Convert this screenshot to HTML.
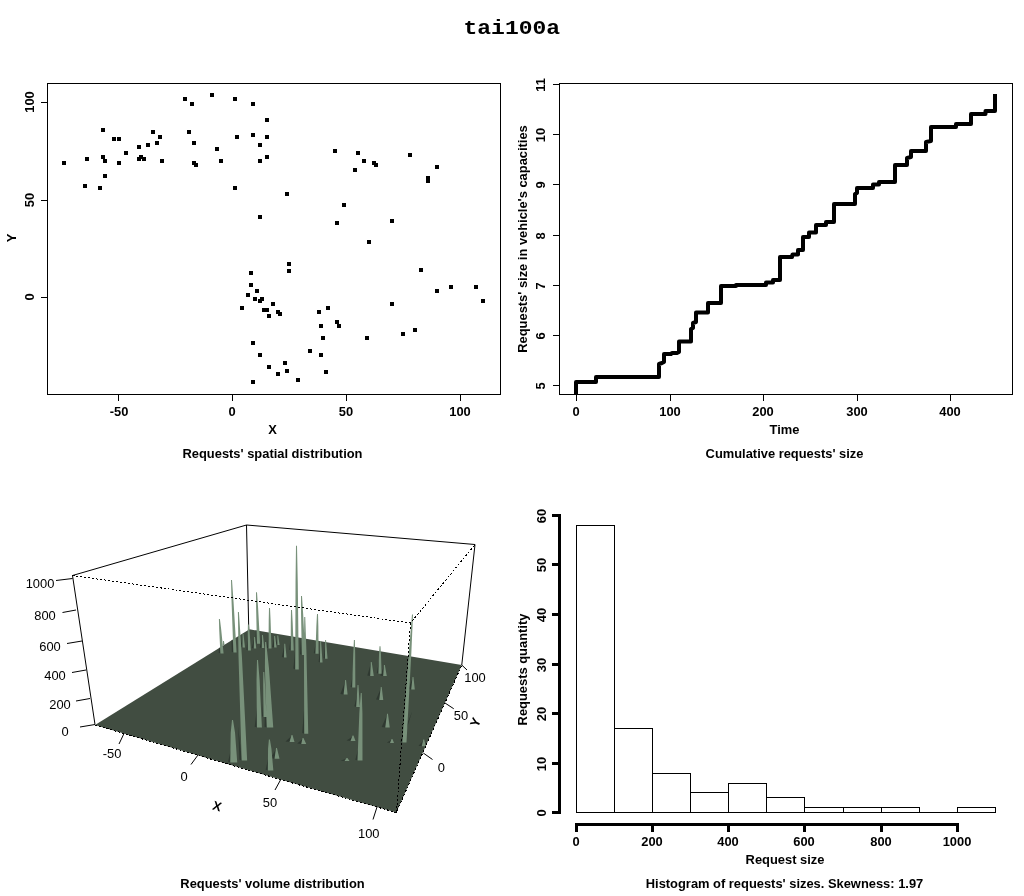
<!DOCTYPE html>
<html lang="en"><head><meta charset="utf-8"><title>tai100a</title>
<style>html,body{margin:0;padding:0;background:#fff}svg{display:block}text{font-family:"Liberation Sans",Arial,sans-serif;fill:#000}.b{font-weight:bold;font-size:12.9px}.r{font-size:12.9px}.t{font-family:"Liberation Mono","Courier New",monospace;font-weight:bold;font-size:20.5px}.c{shape-rendering:crispEdges}</style></head><body>
<svg width="1024" height="896" viewBox="0 0 1024 896">
<rect width="1024" height="896" fill="#fff"/>
<text class="t" transform="translate(511.8 34) scale(1.122 1)" text-anchor="middle">tai100a</text>
<g id="p1">
<rect class="c" x="47.5" y="83.5" width="453" height="311" fill="none" stroke="#000"/>
<path class="c" d="M118.5 394.5V400.5M232.5 394.5V400.5M346.5 394.5V400.5M460.5 394.5V400.5M47.5 297.5H41M47.5 200.5H41M47.5 102.5H41" stroke="#000" fill="none"/>
<text class="b" x="119" y="415.7" text-anchor="middle">-50</text>
<text class="b" x="232" y="415.7" text-anchor="middle">0</text>
<text class="b" x="346" y="415.7" text-anchor="middle">50</text>
<text class="b" x="460" y="415.7" text-anchor="middle">100</text>
<text class="b" transform="translate(33.5 297.0) rotate(-90)" text-anchor="middle">0</text>
<text class="b" transform="translate(33.5 200.0) rotate(-90)" text-anchor="middle">50</text>
<text class="b" transform="translate(33.5 102.0) rotate(-90)" text-anchor="middle">100</text>
<text class="b" x="272.5" y="433.7" text-anchor="middle">X</text>
<text class="b" transform="translate(15.5 238) rotate(-90)" text-anchor="middle">Y</text>
<text class="b" x="272.5" y="457.5" text-anchor="middle">Requests' spatial distribution</text>
<path class="c" d="M62 161h4v4h-4zM85 157h4v4h-4zM101 128h4v4h-4zM112 137h4v4h-4zM117 137h4v4h-4zM101 155h4v4h-4zM103 159h4v4h-4zM117 161h4v4h-4zM124 151h4v4h-4zM103 174h4v4h-4zM83 184h4v4h-4zM98 186h4v4h-4zM137 145h4v4h-4zM146 143h4v4h-4zM151 130h4v4h-4zM158 135h4v4h-4zM155 141h4v4h-4zM137 157h4v4h-4zM139 155h4v4h-4zM142 157h4v4h-4zM160 159h4v4h-4zM183 97h4v4h-4zM190 102h4v4h-4zM210 93h4v4h-4zM233 97h4v4h-4zM251 102h4v4h-4zM265 118h4v4h-4zM187 130h4v4h-4zM192 141h4v4h-4zM215 147h4v4h-4zM219 159h4v4h-4zM192 161h4v4h-4zM194 163h4v4h-4zM235 135h4v4h-4zM251 133h4v4h-4zM265 135h4v4h-4zM258 143h4v4h-4zM258 159h4v4h-4zM265 155h4v4h-4zM233 186h4v4h-4zM285 192h4v4h-4zM258 215h4v4h-4zM287 262h4v4h-4zM287 269h4v4h-4zM249 271h4v4h-4zM249 283h4v4h-4zM255 289h4v4h-4zM246 293h4v4h-4zM253 297h4v4h-4zM260 297h4v4h-4zM258 299h4v4h-4zM333 149h4v4h-4zM356 151h4v4h-4zM362 159h4v4h-4zM372 161h4v4h-4zM374 163h4v4h-4zM353 168h4v4h-4zM408 153h4v4h-4zM435 165h4v4h-4zM426 176h4v4h-4zM426 179h4v4h-4zM342 203h4v4h-4zM335 221h4v4h-4zM390 219h4v4h-4zM367 240h4v4h-4zM419 268h4v4h-4zM435 289h4v4h-4zM449 285h4v4h-4zM474 285h4v4h-4zM481 299h4v4h-4zM240 306h4v4h-4zM271 302h4v4h-4zM262 308h4v4h-4zM265 308h4v4h-4zM267 314h4v4h-4zM276 310h4v4h-4zM278 312h4v4h-4zM251 341h4v4h-4zM258 353h4v4h-4zM267 365h4v4h-4zM283 361h4v4h-4zM285 369h4v4h-4zM276 372h4v4h-4zM251 380h4v4h-4zM296 378h4v4h-4zM308 349h4v4h-4zM319 353h4v4h-4zM324 370h4v4h-4zM321 336h4v4h-4zM319 324h4v4h-4zM317 310h4v4h-4zM326 306h4v4h-4zM335 320h4v4h-4zM337 324h4v4h-4zM365 336h4v4h-4zM390 302h4v4h-4zM401 332h4v4h-4zM413 328h4v4h-4z" fill="#000"/>
</g>
<g id="p2">
<rect class="c" x="559.5" y="83.5" width="453" height="311" fill="none" stroke="#000"/>
<path class="c" d="M576.5 394.5V400.5M670.5 394.5V400.5M763.5 394.5V400.5M857.5 394.5V400.5M950.5 394.5V400.5M559.5 385.5H553M559.5 335.5H553M559.5 285.5H553M559.5 235.5H553M559.5 184.5H553M559.5 134.5H553M559.5 84.5H553" stroke="#000" fill="none"/>
<text class="b" x="576.0" y="415.7" text-anchor="middle">0</text>
<text class="b" x="670.0" y="415.7" text-anchor="middle">100</text>
<text class="b" x="763.0" y="415.7" text-anchor="middle">200</text>
<text class="b" x="857.0" y="415.7" text-anchor="middle">300</text>
<text class="b" x="950.0" y="415.7" text-anchor="middle">400</text>
<text class="b" transform="translate(544.5 386.0) rotate(-90)" text-anchor="middle">5</text>
<text class="b" transform="translate(544.5 336.0) rotate(-90)" text-anchor="middle">6</text>
<text class="b" transform="translate(544.5 286.0) rotate(-90)" text-anchor="middle">7</text>
<text class="b" transform="translate(544.5 236.0) rotate(-90)" text-anchor="middle">8</text>
<text class="b" transform="translate(544.5 185.0) rotate(-90)" text-anchor="middle">9</text>
<text class="b" transform="translate(544.5 135.0) rotate(-90)" text-anchor="middle">10</text>
<text class="b" transform="translate(544.5 85.0) rotate(-90)" text-anchor="middle">11</text>
<text class="b" x="784.5" y="433.7" text-anchor="middle">Time</text>
<text class="b" transform="translate(526.5 239) rotate(-90)" text-anchor="middle">Requests' size in vehicle's capacities</text>
<text class="b" x="784.5" y="457.5" text-anchor="middle">Cumulative requests' size</text>
<path d="M576 394L576 382L596 382L596 377L659 377L659 364L662 363L664 362L664 354L671 354L672 353L677 353L679 352L679 341.5L691 341.5L691 329L693 328L693 323L696 322L696 312.5L708 312.5L708 303L721 303L721 286L736 286L736 285L766 285L766 282.5L773 282.5L773 280L780 280L780 257L792 257L792.5 254.5L798 254.5L798 250L803 250L803 237L809 237L809 232.5L816 232.5L816 225L826 225L826 222L834 222L834 204L855 204L855 194L857 193L857 188L873 188L873 184.5L879 184.5L879 182L895 182L895 165L907 165L907 158L911 157L911 151L926 151L926 142L931 141L931 127L956 127L956 124L971 124L971 114L985.5 114L985.5 111L995 111L995 94" stroke="#000" stroke-width="4" fill="none" stroke-linejoin="round" stroke-linecap="butt"/>
</g>
<g id="p4">
<path class="c" d="M576.5 812.5V525.5H614.5V812.5zM614.5 812.5V728.5H652.5V812.5zM652.5 812.5V773.5H690.5V812.5zM690.5 812.5V792.5H728.5V812.5zM728.5 812.5V783.5H766.5V812.5zM766.5 812.5V797.5H804.5V812.5zM804.5 812.5V807.5H843.5V812.5zM843.5 812.5V807.5H881.5V812.5zM881.5 812.5V807.5H919.5V812.5zM919.5 812.5V812.5H957.5V812.5zM957.5 812.5V807.5H995.5V812.5z" stroke="#000" fill="#fff"/>
<path class="c" d="M559.5 514V814M561 812.5H552M561 763.5H552M561 713.5H552M561 664.5H552M561 614.5H552M561 564.5H552M561 515.5H552" stroke="#000" stroke-width="3" fill="none"/>
<path class="c" d="M575 824.5H959M576.5 823V831.5M652.5 823V831.5M728.5 823V831.5M804.5 823V831.5M881.5 823V831.5M957.5 823V831.5" stroke="#000" stroke-width="3" fill="none"/>
<text class="b" x="576.0" y="845.7" text-anchor="middle">0</text>
<text class="b" x="652.0" y="845.7" text-anchor="middle">200</text>
<text class="b" x="728.0" y="845.7" text-anchor="middle">400</text>
<text class="b" x="804.0" y="845.7" text-anchor="middle">600</text>
<text class="b" x="881.0" y="845.7" text-anchor="middle">800</text>
<text class="b" x="957.0" y="845.7" text-anchor="middle">1000</text>
<text class="b" transform="translate(545.5 813.0) rotate(-90)" text-anchor="middle">0</text>
<text class="b" transform="translate(545.5 764.0) rotate(-90)" text-anchor="middle">10</text>
<text class="b" transform="translate(545.5 714.0) rotate(-90)" text-anchor="middle">20</text>
<text class="b" transform="translate(545.5 665.0) rotate(-90)" text-anchor="middle">30</text>
<text class="b" transform="translate(545.5 615.0) rotate(-90)" text-anchor="middle">40</text>
<text class="b" transform="translate(545.5 565.0) rotate(-90)" text-anchor="middle">50</text>
<text class="b" transform="translate(545.5 516.0) rotate(-90)" text-anchor="middle">60</text>
<text class="b" x="785" y="863.7" text-anchor="middle">Request size</text>
<text class="b" transform="translate(526.5 669.5) rotate(-90)" text-anchor="middle">Requests quantity</text>
<text class="b" x="784.5" y="887.5" text-anchor="middle">Histogram of requests' sizes. Skewness: 1.97</text>
</g>
<g id="p3">
<path d="M72.5 575.5L246.5 525L475 544.5L461.75 665M246.5 525L248.75 629.25M72.5 575.5L95 724.5" stroke="#000" fill="none" stroke-width="1"/>
<clipPath id="fl"><polygon points="95,725 249.5,629.3 461.75,665 396.25,812.5 290,782.3 208,758.3"/></clipPath>
<polygon points="95,725 249.5,629.3 461.75,665 396.25,812.5 290,782.3 208,758.3" fill="#414d41"/>
<path d="M256.2 624.02L257.20 643.75L255.30 642.95zM277.55 636.40L277.80 645L275.64 644.6zM223.3 641.80L223.35 645L221.67 644.6zM242.8 634.80L242.90 647.5L240.50 647.1zM274.40000000000003 636.80L274.55 647.5L272.15 647.1zM262.3 635.80L262.15 648L259.75 647.6zM269.2 630.42L268.80 648.5L267.00 647.7zM254.4 637.80L254.15 648.5L251.75 648.1zM248.1 634.67L248.20 650.6L246.40 649.8000000000001zM291.2 632.51L291.05 650.6L289.25 649.8000000000001zM231.2 629.62L233.70 652.5L231.80 651.7zM219.1 636.33L220.70 653.5L218.80 652.7zM317.2 635.79L315.70 653.75L313.80 652.95zM301.2 634.15L302.10 655L300.10 654.2zM284.55 644.55L284.35 657.5L281.87 657.1zM325.3 643.94L325.25 658.75L323.65 657.95zM320.3 647.27L320.25 662.5L318.65 661.7zM296.2 638.85L295.50 669.4L293.40 668.6zM379.7 657.62L378.70 673.75L376.80 672.95zM371.05 662.80L370.60 676L367.32 675.6zM384.2 665.80L383.60 676L380.32 675.6zM354.09999999999997 668.38L352.45 687.5L350.55 686.7zM412.8 677.80L411.60 689.4L408.32 689.0zM345.40000000000003 680.80L344.00 694.4L340.40 694.0zM381.05 687.80L379.65 700L376.05 699.6zM357.7 691.70L356.50 707L354.40 706.2zM263.45 698.25L263.80 717L262.00 716.2zM265.3 702.67L267.05 727.5L264.55 726.7zM257.2 705.38L257.20 727.5L254.70 726.7zM387.3 714.55L385.65 727.5L381.65 727.1zM304.45 704.24L304.55 733.75L302.25 732.95zM352.8 736.40L350.90 741L346.50 740.6zM291.8 735.80L289.90 742L285.50 741.6zM412.2 711.28L402.60 742.5L400.20 741.7zM391.8 739.80L390.40 743L386.80 742.6zM302.8 738.80L301.65 744L297.25 743.6zM423.55 740.20L422.15 746.25L418.55 745.85zM276.3 748.80L274.90 758.75L270.50 758.35zM238.1 726.31L241.95 760.6L239.45 759.8000000000001zM360.95 738.46L357.80 760.6L355.30 759.8000000000001zM346.8 758.80L344.90 761L340.50 760.6zM232.2 744.12L230.55 762.5L228.05 761.7zM269.09999999999997 753.92L268.15 770.6L265.65 769.8000000000001z" fill="#2f3931" clip-path="url(#fl)"/><path d="M256.0 592.25L257.0 592.25L258.09 607.70L260.10 643.75L256.90 643.75L256.11 607.70zM277.3 635.6L278.2 635.6L279.60 645L277.40 645zM223.05 641L223.95 641L224.55 645L222.95 645zM242.55 634L243.45 634L245.00 647.5L242.50 647.5zM274.15000000000003 636L275.05 636L276.65 647.5L274.15 647.5zM262.05 635L262.95 635L264.25 648L261.75 648zM269.0 608L270.0 608L270.58 620.15L271.50 648.5L268.50 648.5L268.72 620.15zM254.15 637L255.04999999999998 637L256.25 648.5L253.75 648.5zM247.9 624.4L248.9 624.4L249.63 632.26L250.90 650.6L247.90 650.6L247.77 632.26zM291.0 610L292.0 610L292.66 622.18L293.75 650.6L290.75 650.6L290.80 622.18zM231.0 580L232.0 580L233.54 601.75L236.60 652.5L233.40 652.5L231.56 601.75zM218.9 619L219.9 619L221.17 629.35L223.60 653.5L220.40 653.5L219.19 629.35zM317.0 614L318.0 614L318.34 625.92L318.60 653.75L315.40 653.75L316.36 625.92zM301.0 596L302.0 596L303.15 613.70L305.20 655L301.80 655L301.05 613.70zM284.3 643.75L285.2 643.75L286.55 657.5L283.95 657.5zM325.15000000000003 640L326.05 640L327.55 658.75L324.95 658.75zM320.15000000000003 641L321.05 641L322.55 662.5L319.95 662.5zM296.0 545.75L297.0 545.75L297.77 582.85L298.80 669.4L295.20 669.4L295.53 582.85zM379.5 646.25L380.5 646.25L380.99 654.50L381.60 673.75L378.40 673.75L379.01 654.50zM370.8 662L371.7 662L373.80 676L370.20 676zM383.95 665L384.84999999999997 665L386.80 676L383.20 676zM353.9 640L354.9 640L355.20 654.25L355.35 687.5L352.15 687.5L353.21 654.25zM412.55 677L413.45 677L414.80 689.4L411.20 689.4zM345.15000000000003 680L346.05 680L347.60 694.4L343.60 694.4zM380.8 687L381.7 687L383.25 700L379.25 700zM357.55 685L358.45 685L359.80 707L356.20 707zM263.25 672L264.25 672L265.06 685.50L266.50 717L263.50 717L263.19 685.50zM265.1 642L266.1 642L268.94 667.65L273.25 727.5L266.75 727.5L264.91 667.65zM257.0 660L258.0 660L259.62 680.25L261.90 727.5L256.90 727.5L256.52 680.25zM387.05 713.75L387.95 713.75L389.75 727.5L385.25 727.5zM304.25 617L305.25 617L306.44 652.02L308.25 733.75L304.25 733.75L303.96 652.02zM352.55 735.6L353.45 735.6L355.50 741L350.50 741zM291.55 735L292.45 735L294.50 742L289.50 742zM412.0 614.4L413.0 614.4L411.37 652.83L406.50 742.5L402.30 742.5L408.77 652.83zM391.55 739L392.45 739L394.00 743L390.00 743zM302.55 738L303.45 738L306.25 744L301.25 744zM423.3 739.4L424.2 739.4L425.75 746.25L421.75 746.25zM276.05 748L276.95 748L279.50 758.75L274.50 758.75zM237.9 612L238.9 612L241.91 656.58L247.15 760.6L241.65 760.6L238.50 656.58zM360.75 693L361.75 693L362.43 713.28L362.50 760.6L357.50 760.6L359.32 713.28zM346.55 758L347.45 758L349.50 761L344.50 761zM232.0 720L233.0 720L235.04 732.75L237.25 762.5L230.25 762.5L230.71 732.75zM268.9 739.4L269.9 739.4L271.46 748.76L273.35 770.6L267.85 770.6L268.06 748.76z" fill="#78917a"/>
<path d="M72.5 575.5L410.5 623L475 544.5M410.5 623L396.5 812M95 725L208 758.3L290 782.3L396.25 812.5L461.75 665" stroke="#000" fill="none" stroke-width="1" stroke-dasharray="2 2" shape-rendering="crispEdges"/>
<path d="M72.5 578.5L56 580.5M76 610L62.5 612.5M82 641L67 643.5M86 670L72 672.5M90 698.5L76 701M95 724.5L80 727M124 733.5L119 744M198 755L191 764.5M280.75 779.5L275 790M377 807L373 819.5M423.25 753L432.5 759.5M445 703L453.75 708.75M461.75 665L467 670" stroke="#000" fill="none" stroke-width="1"/>
<text class="r" x="40" y="588" text-anchor="middle">1000</text>
<text class="r" x="45" y="620" text-anchor="middle">800</text>
<text class="r" x="50" y="651" text-anchor="middle">600</text>
<text class="r" x="55" y="680" text-anchor="middle">400</text>
<text class="r" x="60" y="709" text-anchor="middle">200</text>
<text class="r" x="65" y="736" text-anchor="middle">0</text>
<text class="r" x="112" y="758" text-anchor="middle">-50</text>
<text class="r" x="184" y="781" text-anchor="middle">0</text>
<text class="r" x="270" y="807" text-anchor="middle">50</text>
<text class="r" x="368.75" y="838" text-anchor="middle">100</text>
<text class="r" x="441.25" y="772" text-anchor="middle">0</text>
<text class="r" x="461" y="720" text-anchor="middle">50</text>
<text class="r" x="475" y="682" text-anchor="middle">100</text>
<text class="b" transform="translate(216 810.5) rotate(16.2)" text-anchor="middle">X</text>
<text class="b" transform="translate(479.6 724) rotate(-66)" text-anchor="middle">Y</text>
<text class="b" x="272.5" y="887.5" text-anchor="middle">Requests' volume distribution</text>
</g>
</svg></body></html>
